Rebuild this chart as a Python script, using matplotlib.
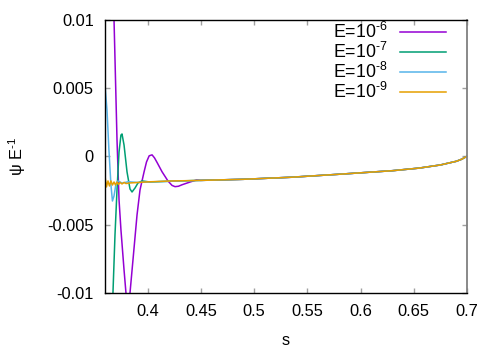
import matplotlib
matplotlib.use("Agg")
import matplotlib.pyplot as plt

plt.rcParams['font.family'] = ['Liberation Sans', 'DejaVu Sans']
plt.rcParams['mathtext.fontset'] = 'custom'
plt.rcParams['mathtext.rm'] = 'Liberation Sans'
plt.rcParams['mathtext.it'] = 'Liberation Sans:italic'

# Common slowly varying part (shared by all energies for larger s)
s_base = [0.45, 0.49, 0.535, 0.58, 0.63, 0.655, 0.675, 0.69, 0.695, 0.70]
v_base = [-0.00175, -0.00167, -0.00152, -0.0013, -0.00104, -0.00085, -0.00062,
          -0.00035, -0.0002, 0.00002]

# Transient parts near the left edge
s_e6 = [0.360, 0.3685, 0.3713, 0.3732, 0.3750, 0.3779, 0.3797, 0.3816, 0.3835,
        0.3863, 0.3901, 0.3929, 0.3967, 0.3990, 0.4015, 0.4042, 0.4065, 0.4090,
        0.4136, 0.4192, 0.4230, 0.4258, 0.4290, 0.4324, 0.4399, 0.4460]
v_e6 = [0.0363, 0.00999, 0.00121, -0.00318, -0.00538, -0.00831, -0.00999,
        -0.01065, -0.00999, -0.00757, -0.00428, -0.00245, -0.00113, -0.00040,
        0.00005, 0.00012, -0.00010, -0.00045, -0.00112, -0.00180, -0.00212,
        -0.00221, -0.00218, -0.00207, -0.00187, -0.00172]

s_e7 = [0.360, 0.3647, 0.3675, 0.3694, 0.3713, 0.3732, 0.3750, 0.3760, 0.3779,
        0.3807, 0.3835, 0.3854, 0.3882, 0.3910, 0.3948, 0.4023, 0.425]
v_e7 = [-0.0264, -0.0164, -0.00999, -0.00575, -0.00245, 0.00033, 0.00157,
        0.00165, 0.00084, -0.00113, -0.00238, -0.0026, -0.00231, -0.00194,
        -0.00179, -0.00187, -0.00180]

s_e8 = [0.360, 0.3619, 0.3637, 0.3656, 0.3670, 0.3685, 0.3703, 0.3722, 0.376,
        0.382, 0.39, 0.41, 0.43]
v_e8 = [0.00523, 0.0034, 0.00048, -0.00209, -0.00326, -0.00289, -0.00201,
        -0.00179, -0.00195, -0.00185, -0.00190, -0.00184, -0.00180]

s_e9 = [0.360, 0.3614, 0.3628, 0.3642, 0.3656, 0.3670, 0.3685, 0.3699, 0.3713,
        0.3727, 0.3741, 0.3760, 0.3779, 0.3797, 0.3835, 0.40, 0.42]
v_e9 = [-0.00143, -0.00223, -0.00179, -0.00216, -0.00179, -0.00209, -0.00187,
        -0.00209, -0.00187, -0.00205, -0.0019, -0.00201, -0.0019, -0.00198,
        -0.00194, -0.00186, -0.00180]

labels = [r'E=10$^{\text{-6}}$', r'E=10$^{\text{-7}}$', r'E=10$^{\text{-8}}$',
          r'E=10$^{\text{-9}}$']
colors = ['#9400d3', '#009e73', '#56b4e9', '#e69f00']

x_ticks = [0.4, 0.45, 0.5, 0.55, 0.6, 0.65, 0.7]
x_tick_labels = ['0.4', '0.45', '0.5', '0.55', '0.6', '0.65', '0.7']
y_ticks = [-0.01, -0.005, 0, 0.005, 0.01]
y_tick_labels = ['-0.01', '-0.005', '0', '0.005', '0.01']

fig = plt.figure(figsize=(4.98, 3.49), dpi=100)
ax = fig.add_axes([0.2108, 0.1605, 0.7270, 0.7822])

series = [(s_e6, v_e6), (s_e7, v_e7), (s_e8, v_e8), (s_e9, v_e9)]
for (s, v), lab, c in zip(series, labels, colors):
    ax.plot(s + s_base, v + v_base, color=c, lw=1.1, label=lab)

ax.set_xlim(0.36, 0.7)
ax.set_ylim(-0.01, 0.01)
ax.set_xticks(x_ticks, labels=x_tick_labels)
ax.set_yticks(y_ticks, labels=y_tick_labels)
ax.tick_params(direction='in', length=3.5, width=1, color='#a0a0a0',
               top=True, right=True, labelsize=11.8, pad=8)
for side in ['left', 'top', 'bottom']:
    ax.spines[side].set_color('black')
    ax.spines[side].set_linewidth(1)
ax.spines['right'].set_color('#808080')
ax.spines['right'].set_linewidth(1.3)

ax.set_xlabel('s', fontsize=11.8, labelpad=10)
ax.set_ylabel(r'ψ E$^{\text{-1}}$', fontsize=11.8, labelpad=14)

leg = ax.legend(loc='upper right', frameon=False, markerfirst=False,
                fontsize=12.8, handlelength=2.6, handletextpad=0.7,
                labelspacing=0.0, borderaxespad=0, borderpad=0,
                bbox_to_anchor=(0.942, 0.993))

fig.savefig('out.png', dpi=100)
